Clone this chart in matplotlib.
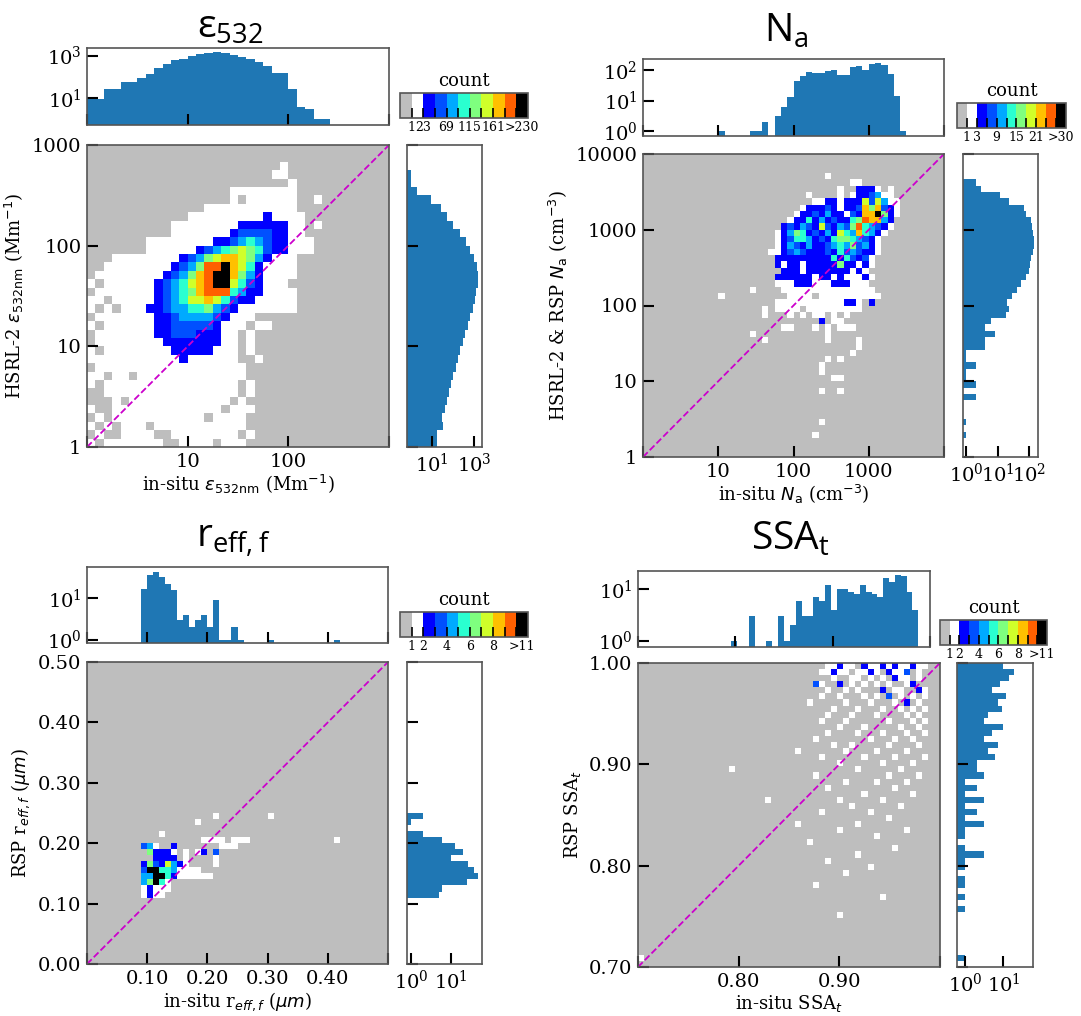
import numpy as np
import matplotlib
matplotlib.use("Agg")
import matplotlib.pyplot as plt
from matplotlib.colors import ListedColormap, BoundaryNorm
from matplotlib.cm import ScalarMappable
from matplotlib.ticker import NullLocator

plt.rcParams['font.family'] = 'DejaVu Serif'
plt.rcParams['axes.edgecolor'] = '#555555'
plt.rcParams['axes.linewidth'] = 1.2

W, H = 1081, 1016

# colour class of each 2D bin: 0 = empty (grey), 1 = white, 2..9 jet-like, a = black
level_colors = ['#bebebe', '#ffffff', '#0000ff', '#0050ff', '#00aaff', '#2affd0',
                '#7fff7f', '#d0ff2a', '#ffc000', '#ff6000', '#000000']
hist_color = '#1f77b4'

# ---------------- extinction, 36 log bins 1..1000 ----------------
# row index -> (first column, class codes)
ext_map = {
    33: (23, "1"),
    32: (22, "11"),
    31: (24, "1"),
    30: (17, "11111111"),
    29: (17, "1.111111..1"),
    28: (14, "11111111111"),
    27: (12, "11111111121111"),
    26: (10, "1111111122222211.1"),
    25: (10, "1111111233332211"),
    24: (7, "11111111223454322111"),
    23: (7, "11111123456765322111"),
    22: (3, "1111111123467887642111"),
    21: (2, "11111111234699a87521111"),
    20: (1, "11111111234689aa86421111"),
    19: (0, "1.1111112345789aa7532111"),
    18: (1, "111111123456899954221111"),
    17: (0, "11.1111123457787532211111"),
    16: (0, "1.1.111223445564321111111"),
    15: (1, "1111111223444432111"),
    14: (0, "1.11111122333332111.11"),
    13: (1, "11111112233322211.1"),
    12: (1, "11111111222222211.1"),
    11: (0, "1.1111111122222111.1"),
    10: (0, "111111111112111111..1"),
    9: (1, "111111111111111111"),
    8: (0, "11.11.1111111111111"),
    7: (0, "1.1111111111111111.1"),
    6: (2, "1111111111111111.1"),
    5: (3, "1.111111111111.1"),
    4: (0, "1..1111111111111.111"),
    3: (1, "1.11111111111.1111"),
    2: (0, "1.1.111.11111111111"),
    1: (1, "1..1111..11111111.1"),
    0: (0, "1.1111111..1111.111"),
}
ext_xcount = [12, 9, 27, 27, 55, 60, 88, 135, 250, 420, 600, 730, 1000, 1200, 1350,
              1450, 1350, 1050, 870, 700, 480, 340, 160, 160, 27, 4, 3, 1, 1, 0,
              0, 0, 0, 0, 0, 0]
ext_ycount = [17, 17, 33, 30, 43, 51, 68, 79, 105, 140, 180, 218, 290, 390, 540,
              690, 870, 1110, 1330, 1650, 1650, 1450, 1000, 650, 420, 218, 98, 51,
              27, 9, 2, 1, 1, 0, 0, 0]
ext_cbar_labels = ['1', '23', '69', '115', '161', '>230']

# ---------------- number concentration, 48 log bins 1..10000 ----------------
na_map = {
    44: (29, "1"),
    43: (33, "11"),
    42: (31, "1..2221.1"),
    41: (26, "1....1.1223411"),
    40: (27, "11221222737411"),
    39: (25, "1222321223868321"),
    38: (24, "1223242213288a621"),
    37: (23, "12252423225698842"),
    36: (22, "232432732436954321"),
    35: (21, "124652324275485421"),
    34: (21, "12355423256654321"),
    33: (21, "12432422345463421"),
    32: (20, "112343222325343221"),
    31: (21, "2222222225253231"),
    30: (21, "2122122222622121"),
    29: (22, "22212222222121"),
    28: (21, "2222221221211121"),
    27: (21, "111222111222111"),
    26: (17, "1....111111111111111"),
    25: (12, "1..........1111.1111111111"),
    24: (21, "11111111111221.2"),
    23: (19, "1.1111.111111111"),
    22: (19, "1...1.1.11.1.1"),
    21: (28, "2.11"),
    20: (22, "11...1.1.111"),
    19: (17, "1...........1"),
    18: (19, "1.........1....1"),
    17: (34, "1"),
    16: (33, "1"),
    15: (29, "1.1"),
    14: (28, "1"),
    13: (28, "1"),
    12: (30, "11"),
    10: (28, "1..1"),
    5: (28, "1"),
    3: (27, "1"),
}
na_xcount = [0, 0, 0, 0, 0, 0, 0, 0, 0, 0, 0, 0, 1, 0, 0, 0, 0, 1, 1, 2, 0, 3, 6, 13,
             43, 66, 88, 85, 85, 92, 105, 68, 70, 130, 140, 100, 165, 175, 150, 78,
             14, 1, 0, 0, 0, 0, 0, 0]
na_ycount = [0, 0, 0, 1, 0, 1, 0, 0, 0, 2, 0, 2, 1, 1, 2, 1, 1, 4, 4, 8, 4, 6, 18, 23,
             20, 30, 43, 58, 84, 102, 108, 121, 137, 147, 147, 137, 127, 115, 80, 71,
             24, 12, 3, 2, 0, 0, 0, 0]
na_cbar_labels = ['1', '3', '9', '15', '21', '>30']

# ---------------- fine-mode effective radius, 50 bins 0..0.5 ----------------
reff_map = {
    24: (21, "1........1"),
    23: (18, "1"),
    21: (12, "1"),
    20: (19, "1111.111..............1"),
    19: (9, "341..2.......111"),
    18: (10, "62221.1.12.3"),
    17: (11, "2222.1....1"),
    16: (9, "26327421....1"),
    15: (9, "3aa5541111"),
    14: (9, "44aa52111111"),
    13: (9, "46a51"),
    12: (9, "12111"),
    11: (9, "1211"),
}
reff_xcount = [0, 0, 0, 0, 0, 0, 0, 0, 0, 17, 38, 45, 34, 22, 16, 3, 4, 2, 3, 4, 2, 9,
               1, 1, 2, 1, 0, 0, 0, 0, 1, 0, 0, 0, 0, 0, 0, 0, 0, 0, 0, 1, 0, 0, 0, 0,
               0, 0, 0, 0]
reff_ycount = [0, 0, 0, 0, 0, 0, 0, 0, 0, 0, 0, 5, 6, 26, 49, 40, 27, 10, 20, 13, 6, 2,
               0, 1, 2, 0, 0, 0, 0, 0, 0, 0, 0, 0, 0, 0, 0, 0, 0, 0, 0, 0, 0, 0, 0, 0,
               0, 0, 0, 0]
reff_cbar_labels = ['1', '2', '4', '6', '8', '>11']

# ---------------- single scattering albedo, 50 bins 0.7..1.0 ----------------
ssa_map = {
    49: (31, "11211.21121211211"),
    48: (30, "11211.1121.2113.1"),
    47: (32, "1..11.1.1.211.1"),
    46: (29, "31..2.1.1.1.1..12"),
    45: (31, "1..1.1...2.11..21"),
    44: (30, "1..1...1.1.3.1.1.1"),
    43: (28, "1.....1...1...1.2.1"),
    42: (32, "1...1...1..1.1.1"),
    41: (31, "1...1...1....1.1"),
    40: (30, "1...1......1...1.1"),
    39: (33, "1...1.....1..1"),
    38: (31, "1....1...1...1..1"),
    37: (29, "1........1...1..1"),
    36: (32, "1..1.....1....1"),
    35: (26, "1.......1....1....1"),
    34: (30, "1......1....1....1"),
    33: (33, "1......1....1"),
    32: (15, "1....................1......1"),
    31: (29, "1...........1....1"),
    30: (34, "1....1....1"),
    29: (31, "1..........1"),
    28: (37, "1.......1"),
    27: (21, "1...........1......1"),
    26: (35, "1.......1"),
    25: (30, "1.......1"),
    24: (41, "1"),
    23: (26, "1.........1"),
    22: (33, "1..........1"),
    21: (39, "1"),
    20: (28, "1"),
    19: (42, "1"),
    18: (36, "1"),
    17: (31, "1"),
    16: (38, "1"),
    15: (34, "1"),
    13: (29, "1"),
    11: (40, "1"),
    8: (33, "1"),
    1: (0, "1"),
}
ssa_xcount = [0, 0, 0, 0, 0, 0, 0, 0, 0, 0, 0, 0, 0, 0, 0, 0, 1, 0, 0, 3, 0, 0, 1, 0,
              3, 1, 2, 6, 3, 3, 7, 6, 12, 4, 10, 10, 9, 8, 12, 9, 8, 7, 17, 14, 19, 18,
              9, 4, 0, 0]
ssa_ycount = [0, 1, 0, 0, 0, 0, 0, 0, 0, 1, 0, 1, 0, 1, 1, 0, 1, 1, 3, 1, 0, 1, 1, 3,
              1, 2, 1, 3, 1, 2, 1, 3, 2, 2, 6, 4, 7, 3, 5, 10, 3, 4, 9, 7, 12, 5, 8, 14,
              19, 10]
ssa_cbar_labels = ['1', '2', '4', '6', '8', '>11']


cmap = ListedColormap(level_colors)
norm = BoundaryNorm(np.arange(12), cmap.N)


def px(x0, y0, x1, y1):
    return [x0 / W, 1 - y1 / H, (x1 - x0) / W, (y1 - y0) / H]


def build_grid(rows, n):
    grid = np.zeros((n, n), dtype=int)
    for r, (start, codes) in rows.items():
        for k, ch in enumerate(codes):
            if ch != '.':
                grid[r, start + k] = int(ch, 16)
    return grid


def ticks_in(ax, size=14):
    ax.tick_params(direction='in', length=8, width=1.5, labelsize=size,
                   top=False, right=False, pad=4)


panels = [
    dict(edges=np.logspace(0, 3, 37), log=True, rows=ext_map,
         xcount=ext_xcount, ycount=ext_ycount, cbar=ext_cbar_labels,
         ticks=[1, 10, 100, 1000], xtl=['', '10', '100', ''],
         ytl=['1', '10', '100', '1000'],
         xlabel=r'in-situ $\varepsilon_{\mathrm{532nm}}$ (Mm$^{-1}$)',
         ylabel=r'HSRL-2 $\varepsilon_{\mathrm{532nm}}$ (Mm$^{-1}$)',
         top_ticks=[10, 1000], top_lim=(0.55, 2300),
         right_ticks=[10, 1000], right_lim=(0.66, 2450),
         title=r'ε$_\mathregular{532}$', title_xy=(230, 28),
         main=(87, 145, 389, 447), top=(87, 48, 389, 125),
         right=(407, 145, 482, 447), cbox=(400, 93, 528, 118)),
    dict(edges=np.logspace(0, 4, 49), log=True, rows=na_map,
         xcount=na_xcount, ycount=na_ycount, cbar=na_cbar_labels,
         ticks=[1, 10, 100, 1000, 10000], xtl=['', '10', '100', '1000', ''],
         ytl=['1', '10', '100', '1000', '10000'],
         xlabel=r'in-situ $N_\mathrm{a}$ (cm$^{-3}$)',
         ylabel=r'HSRL-2 & RSP $N_\mathrm{a}$ (cm$^{-3}$)',
         top_ticks=[1, 10, 100], top_lim=(0.68, 238),
         right_ticks=[1, 10, 100], right_lim=(0.78, 197),
         title=r'N$_\mathregular{a}$', title_xy=(786, 32),
         main=(643, 154, 944, 457), top=(643, 59, 944, 136),
         right=(963, 154, 1038, 457), cbox=(957, 103, 1066, 128)),
    dict(edges=np.linspace(0, 0.5, 51), log=False, rows=reff_map,
         xcount=reff_xcount, ycount=reff_ycount, cbar=reff_cbar_labels,
         ticks=[0, 0.1, 0.2, 0.3, 0.4, 0.5],
         xtl=['', '0.10', '0.20', '0.30', '0.40', ''],
         ytl=['0.00', '0.10', '0.20', '0.30', '0.40', '0.50'],
         xlabel=r'in-situ r$_{eff,f}$ ($\mu m$)',
         ylabel=r'RSP r$_{eff,f}$ ($\mu m$)',
         top_ticks=[1, 10], top_lim=(0.83, 58),
         right_ticks=[1, 10], right_lim=(0.79, 62),
         title=r'r$_\mathregular{eff,f}$', title_xy=(233, 540),
         main=(87, 662, 388, 964), top=(87, 567, 388, 643),
         right=(407, 662, 482, 964), cbox=(400, 612, 528, 637)),
    dict(edges=np.linspace(0.7, 1.0, 51), log=False, rows=ssa_map,
         xcount=ssa_xcount, ycount=ssa_ycount, cbar=ssa_cbar_labels,
         ticks=[0.7, 0.8, 0.9, 1.0], xtl=['', '0.80', '0.90', ''],
         ytl=['0.70', '0.80', '0.90', '1.00'],
         xlabel=r'in-situ SSA$_t$', ylabel=r'RSP SSA$_t$',
         top_ticks=[1, 10], top_lim=(0.75, 23),
         right_ticks=[1, 10], right_lim=(0.6, 60),
         title=r'SSA$_\mathregular{t}$', title_xy=(790, 540),
         main=(638, 663, 940, 967), top=(638, 571, 930, 647),
         right=(957, 663, 1033, 967), cbox=(940, 620, 1047, 645)),
]

fig = plt.figure(figsize=(W / 100, H / 100), dpi=100)

for p in panels:
    edges = p['edges']
    lo, hi = edges[0], edges[-1]
    n = len(edges) - 1

    # 2D count map
    ax = fig.add_axes(px(*p['main']))
    ax.pcolormesh(edges, edges, build_grid(p['rows'], n), cmap=cmap, norm=norm)
    if p['log']:
        ax.set_xscale('log')
        ax.set_yscale('log')
    ax.plot([lo, hi], [lo, hi], color='#cc00cc', ls='--', lw=1.3)
    ax.set_xticks(p['ticks'])
    ax.set_xticklabels(p['xtl'])
    ax.set_yticks(p['ticks'])
    ax.set_yticklabels(p['ytl'])
    ax.xaxis.set_minor_locator(NullLocator())
    ax.yaxis.set_minor_locator(NullLocator())
    ax.set_xlim(lo, hi)
    ax.set_ylim(lo, hi)
    ticks_in(ax)
    ax.set_xlabel(p['xlabel'], fontsize=13, labelpad=2)
    ax.set_ylabel(p['ylabel'], fontsize=13, labelpad=4)

    # marginal on top
    axt = fig.add_axes(px(*p['top']))
    axt.hist(edges[:-1], bins=edges, weights=p['xcount'], color=hist_color, log=True)
    if p['log']:
        axt.set_xscale('log')
    axt.set_xticks(p['ticks'])
    axt.set_xticklabels([])
    axt.set_yticks(p['top_ticks'])
    axt.xaxis.set_minor_locator(NullLocator())
    axt.yaxis.set_minor_locator(NullLocator())
    axt.set_xlim(lo, hi)
    axt.set_ylim(*p['top_lim'])
    ticks_in(axt)

    # marginal on the right
    axr = fig.add_axes(px(*p['right']))
    axr.hist(edges[:-1], bins=edges, weights=p['ycount'], color=hist_color, log=True,
             orientation='horizontal')
    if p['log']:
        axr.set_yscale('log')
    axr.set_yticks(p['ticks'])
    axr.set_yticklabels([])
    axr.set_xticks(p['right_ticks'])
    axr.xaxis.set_minor_locator(NullLocator())
    axr.yaxis.set_minor_locator(NullLocator())
    axr.set_ylim(lo, hi)
    axr.set_xlim(*p['right_lim'])
    ticks_in(axr)

    # count colour bar
    cax = fig.add_axes(px(*p['cbox']))
    cb = fig.colorbar(ScalarMappable(norm=norm, cmap=cmap), cax=cax,
                      orientation='horizontal')
    cb.set_ticks([1, 2, 4, 6, 8, 10.5])
    cb.set_ticklabels(p['cbar'])
    cb.set_ticks([3, 5, 7, 9, 10], minor=True)
    cax.tick_params(which='both', direction='in', length=7, width=1.2,
                    labelsize=9, pad=2)
    cb.outline.set_edgecolor('#555555')
    cax.set_title('count', fontsize=13, pad=5)

    fig.text(p['title_xy'][0] / W, 1 - p['title_xy'][1] / H, p['title'],
             ha='center', va='center', fontsize=28,
             family=['Open Sans', 'DejaVu Sans'])

fig.savefig('out.png', dpi=100)
